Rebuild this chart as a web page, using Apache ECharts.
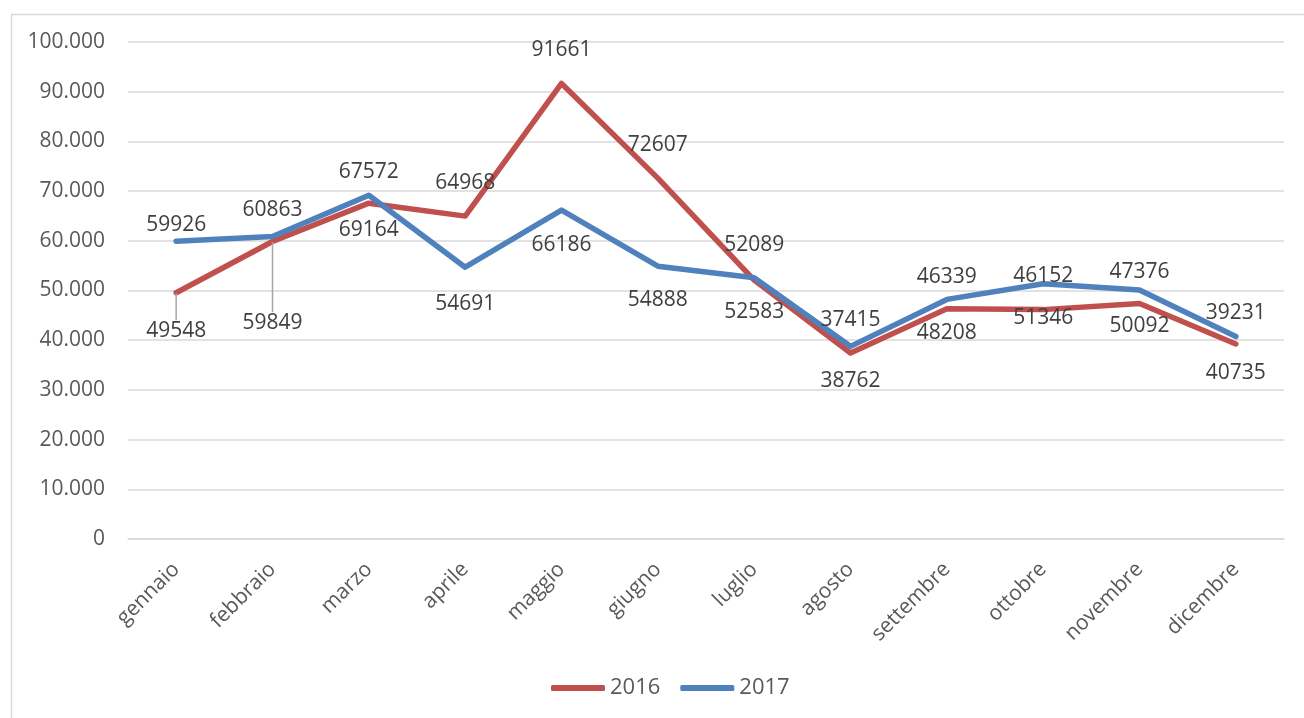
<!DOCTYPE html>
<html>
<head>
<meta charset="utf-8">
<script src="https://cdn.jsdelivr.net/npm/echarts@6/dist/echarts.min.js"></script>
<style>
  html, body { margin: 0; padding: 0; background: #fff; }
  #chart { width: 1304px; height: 718px; }
</style>
</head>
<body>
<div id="chart"></div>
<script>
const months = ['gennaio', 'febbraio', 'marzo', 'aprile', 'maggio', 'giugno',
  'luglio', 'agosto', 'settembre', 'ottobre', 'novembre', 'dicembre']
const values2016 = [49548, 59849, 67572, 64968, 91661, 72607, 52089, 37415, 46339, 46152, 47376, 39231]
const values2017 = [59926, 60863, 69164, 54691, 66186, 54888, 52583, 38762, 48208, 51346, 50092, 40735]

// vertical shift of each data label from its point (px)
const labelShift2016 = [38, 81, -31, -33, -33, -33, -35, -33, -32, -34, -32, -31]
const labelShift2017 = [-16, -26, 35, 37, 35, 34, 34, 35, 34, 34, 36, 36]
const leaderLines2016 = [true, true]

const font = 'Open Sans'
const textColor = '#404040'
const axisTextColor = '#595959'
const gridColor = '#d9d9d9'

function fmtThousands(v) {
  return String(v).replace(/\B(?=(\d{3})+(?!\d))/g, '.')
}

function buildData(values, leaders) {
  return values.map((v, i) => {
    const item = { value: v }
    if (leaders && leaders[i]) {
      item.labelLine = { show: true }
    }
    return item
  })
}

function lineSeries(name, color, values, leaders) {
  return {
    name: name,
    type: 'line',
    data: buildData(values, leaders),
    symbol: 'circle',
    symbolSize: 1,
    itemStyle: { color: color },
    lineStyle: { color: color, width: 5.5, cap: 'round', join: 'round' },
    label: {
      show: true,
      position: 'inside',
      color: textColor,
      fontFamily: font,
      fontSize: 21
    },
    labelLine: {
      show: false,
      lineStyle: { color: '#a6a6a6', width: 1.5 }
    },
    labelLayout: function (params) {
      const shifts = params.seriesIndex === 0 ? labelShift2016 : labelShift2017
      return { dy: shifts[params.dataIndex] }
    },
    animation: false
  }
}

const chart = echarts.init(document.getElementById('chart'))

chart.setOption({
  backgroundColor: '#fff',
  graphic: [{
    type: 'rect',
    left: 9,
    top: 12,
    shape: { width: 1320, height: 730 },
    style: { fill: 'none', stroke: gridColor, lineWidth: 1.5 },
    silent: true
  }],
  grid: {
    left: 128,
    right: 20,
    top: 42,
    bottom: 179,
    containLabel: false
  },
  legend: {
    bottom: 14,
    left: 546,
    itemWidth: 54,
    itemHeight: 6,
    itemGap: 20,
    icon: 'roundRect',
    textStyle: { color: axisTextColor, fontFamily: font, fontSize: 22 },
    data: ['2016', '2017']
  },
  xAxis: {
    type: 'category',
    data: months,
    boundaryGap: true,
    axisTick: { show: false },
    axisLine: { show: true, lineStyle: { color: gridColor, width: 1.5 } },
    axisLabel: {
      rotate: 45,
      margin: 27,
      color: axisTextColor,
      fontFamily: font,
      fontSize: 21
    }
  },
  yAxis: {
    type: 'value',
    min: 0,
    max: 100000,
    interval: 10000,
    axisLine: { show: false },
    axisTick: { show: false },
    splitLine: { lineStyle: { color: gridColor, width: 1.5 } },
    axisLabel: {
      margin: 23,
      color: axisTextColor,
      fontFamily: font,
      fontSize: 21,
      formatter: fmtThousands
    }
  },
  series: [
    lineSeries('2016', '#c0504d', values2016, leaderLines2016),
    lineSeries('2017', '#4f81bd', values2017)
  ]
})
</script>
</body>
</html>
